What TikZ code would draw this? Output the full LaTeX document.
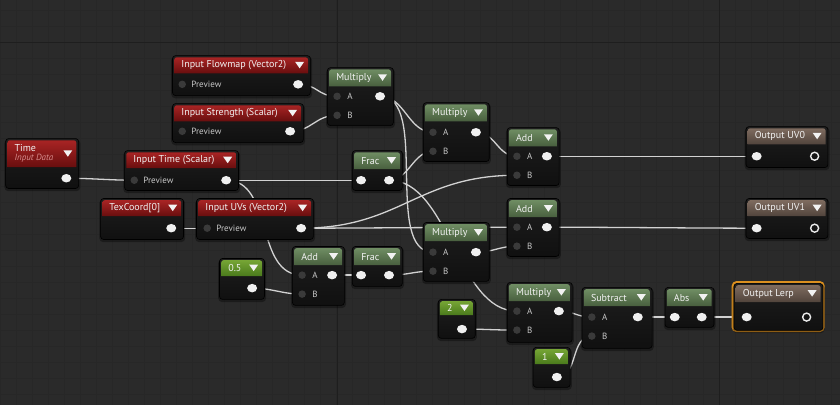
\documentclass[tikz,border=0pt]{standalone}
\usepackage{fontspec}
\setmainfont{PT Sans}
\usetikzlibrary{shapes.geometric}
\definecolor{bgc}{HTML}{2A2A2A}
\definecolor{gridc}{HTML}{272727}
\definecolor{majc}{HTML}{1E1E1E}
\definecolor{bodytop}{HTML}{1E1E1E}
\definecolor{bodybot}{HTML}{101010}
\definecolor{redtop}{HTML}{A82424}
\definecolor{redbot}{HTML}{680E0E}
\definecolor{grntop}{HTML}{6F8D63}
\definecolor{grnbot}{HTML}{485F3E}
\definecolor{cgrtop}{HTML}{76A535}
\definecolor{cgrbot}{HTML}{4A7A1C}
\definecolor{brntop}{HTML}{7E6B5F}
\definecolor{brnbot}{HTML}{51443C}
\definecolor{wirec}{HTML}{D2D2D2}
\definecolor{pinc}{HTML}{3A3A3A}
\definecolor{lblc}{HTML}{C8C8C8}
\definecolor{pinkc}{HTML}{D88C8C}
\definecolor{orangec}{HTML}{DB9020}
\definecolor{titlec}{HTML}{F2F2F2}
\pgfdeclarelayer{grid}
\pgfdeclarelayer{wires}
\pgfsetlayers{grid,wires,main}
\tikzset{
  bodybox/.style={draw=black, line width=0.6pt, rounded corners=3pt, top color=bodytop, bottom color=bodybot, inner sep=0pt},
  hdrred/.style={top color=redtop, bottom color=redbot},
  hdrgrn/.style={top color=grntop, bottom color=grnbot},
  hdrcst/.style={top color=cgrtop, bottom color=cgrbot},
  hdrbrn/.style={top color=brntop, bottom color=brnbot},
  hdrtext/.style={font=\fontsize{10}{11.5}\selectfont, text=titlec, inner sep=0pt},
  pinlbl/.style={font=\fontsize{9}{10}\selectfont, text=lblc, inner sep=0pt, anchor=west},
  inpin/.style={circle, fill=pinc, minimum size=7.5pt, inner sep=0pt},
  outpin/.style={ellipse, fill=white!94!black, minimum width=10pt, minimum height=8.5pt, inner sep=0pt},
  ringpin/.style={circle, draw=white!92!black, line width=1.4pt, minimum size=8pt, inner sep=0pt},
  wire/.style={draw=wirec, line width=1.3pt},
}
\newcommand\uenode[8]{%
  \fill[black,opacity=.35,rounded corners=4pt] ({#2-1},{#3+1}) rectangle ({#4+2},{#5+3});
  \node[bodybox, anchor=north west, minimum width={(#4-(#2))*1pt}, minimum height={(#5-(#3))*1pt}] (#1) at (#2,#3) {};
  \path[#6] ({#2+2},{#3+#7}) [rounded corners=2.5pt] -- ({#2+2},{#3+2}) -- ({#4-2},{#3+2}) [sharp corners] -- ({#4-2},{#3+#7}) -- cycle;
  \node[hdrtext, anchor=west] (#1-t) at ({#2+9},{#3+1+#7/2}) {#8};
  \fill[titlec] ({#4-15},{#3+1+#7/2-3.5}) -- ({#4-6},{#3+1+#7/2-3.5}) -- ({#4-10.5},{#3+1+#7/2+3}) -- cycle;
}
\newcommand\wire[3]{\draw[wire] (#1.center) .. controls +(#3,0) and +(-#3,0) .. (#2.center);}
\begin{document}
\begin{tikzpicture}[x=1pt,y=-1pt]
\begin{pgfonlayer}{grid}
  \fill[bgc] (0,0) rectangle (840,405);
  \foreach \i in {0,16,...,840} \draw[gridc, line width=0.5pt] (\i,0) -- (\i,405);
  \foreach \j in {10,26,...,405} \draw[gridc, line width=0.5pt] (0,\j) -- (840,\j);
  \draw[majc, line width=0.8pt] (337,0) -- (337,405);
  \draw[majc, line width=0.8pt] (720,0) -- (720,405);
  \draw[majc, line width=0.8pt] (0,42) -- (840,42);
\end{pgfonlayer}
\useasboundingbox (0,0) rectangle (840,405);

% ---- input nodes
\uenode{time}{5}{138}{78}{188}{hdrred}{29}{\begin{tabular}{@{}l@{}}Time\\[-2pt]{\fontsize{9}{10}\selectfont\itshape\color{pinkc}Input Data}\end{tabular}}
\node[outpin] (time-o) at (66,178) {};

\uenode{flow}{172}{55}{310}{95}{hdrred}{18}{Input Flowmap (Vector2)}
\node[inpin] (flow-i) at (182,84) {};
\node[pinlbl] (flow-l) at (191,84) {Preview};
\node[outpin] (flow-o) at (298,84) {};

\uenode{stren}{172}{103}{303}{142}{hdrred}{18}{Input Strength (Scalar)}
\node[inpin] (stren-i) at (182,131) {};
\node[pinlbl] (stren-l) at (191,131) {Preview};
\node[outpin] (stren-o) at (290,131) {};

\uenode{itime}{124}{150}{238}{190}{hdrred}{18}{Input Time (Scalar)}
\node[inpin] (itime-i) at (134,180) {};
\node[pinlbl] (itime-l) at (143,180) {Preview};
\node[outpin] (itime-o) at (226,180) {};

\uenode{texc}{100}{198}{183}{239}{hdrred}{18}{TexCoord[0]}
\node[outpin] (texc-o) at (171,228) {};

\uenode{iuvs}{196}{198}{313}{239}{hdrred}{18}{Input UVs (Vector2)}
\node[inpin] (iuvs-i) at (207,228) {};
\node[pinlbl] (iuvs-l) at (216,228) {Preview};
\node[outpin] (iuvs-o) at (301,228) {};

% ---- math nodes
\uenode{m1}{327}{67}{393}{125}{hdrgrn}{19}{Multiply}
\node[inpin] (m1-a) at (337,96) {}; \node[pinlbl] (m1-al) at (347,96) {A};
\node[inpin] (m1-b) at (337,115) {}; \node[pinlbl] (m1-bl) at (347,115) {B};
\node[outpin] (m1-o) at (380,96) {};

\uenode{m2}{423}{102}{489}{161}{hdrgrn}{19}{Multiply}
\node[inpin] (m2-a) at (433,132) {}; \node[pinlbl] (m2-al) at (443,132) {A};
\node[inpin] (m2-b) at (433,151) {}; \node[pinlbl] (m2-bl) at (443,151) {B};
\node[outpin] (m2-o) at (476,132) {};

\uenode{add1}{507}{127}{559}{185}{hdrgrn}{19}{Add}
\node[inpin] (add1-a) at (517,156) {}; \node[pinlbl] (add1-al) at (527,156) {A};
\node[inpin] (add1-b) at (517,175) {}; \node[pinlbl] (add1-bl) at (527,175) {B};
\node[outpin] (add1-o) at (547,156) {};

\uenode{frac1}{352}{150}{402}{190}{hdrgrn}{19}{Frac}
\node[outpin] (frac1-i) at (361,180) {};
\node[outpin] (frac1-o) at (389,180) {};

\uenode{add2}{507}{198}{559}{256}{hdrgrn}{19}{Add}
\node[inpin] (add2-a) at (517,227) {}; \node[pinlbl] (add2-al) at (527,227) {A};
\node[inpin] (add2-b) at (517,246) {}; \node[pinlbl] (add2-bl) at (527,246) {B};
\node[outpin] (add2-o) at (547,227) {};

\uenode{m3}{423}{222}{489}{281}{hdrgrn}{19}{Multiply}
\node[inpin] (m3-a) at (433,252) {}; \node[pinlbl] (m3-al) at (443,252) {A};
\node[inpin] (m3-b) at (433,271) {}; \node[pinlbl] (m3-bl) at (443,271) {B};
\node[outpin] (m3-o) at (476,252) {};

\uenode{addb}{292}{246}{344}{305}{hdrgrn}{19}{Add}
\node[inpin] (addb-a) at (302,275) {}; \node[pinlbl] (addb-al) at (312,275) {A};
\node[inpin] (addb-b) at (302,294) {}; \node[pinlbl] (addb-bl) at (312,294) {B};
\node[outpin] (addb-o) at (332,275) {};

\uenode{fracb}{352}{246}{402}{286}{hdrgrn}{19}{Frac}
\node[outpin] (fracb-i) at (361,275) {};
\node[outpin] (fracb-o) at (389,275) {};

\uenode{c05}{219}{258}{264}{299}{hdrcst}{18}{0.5}
\node[outpin] (c05-o) at (252,288) {};

\uenode{c2}{438}{299}{475}{338}{hdrcst}{16}{2}
\node[outpin] (c2-o) at (462,329) {};

\uenode{m4}{507}{282}{572}{342}{hdrgrn}{19}{Multiply}
\node[inpin] (m4-a) at (517,311) {}; \node[pinlbl] (m4-al) at (527,311) {A};
\node[inpin] (m4-b) at (517,330) {}; \node[pinlbl] (m4-bl) at (527,330) {B};
\node[outpin] (m4-o) at (559,311) {};

\uenode{c1}{533}{347}{570}{387}{hdrcst}{17}{1}
\node[outpin] (c1-o) at (557,377) {};

\uenode{sub}{582}{287}{652}{348}{hdrgrn}{19}{Subtract}
\node[inpin] (sub-a) at (592,317) {}; \node[pinlbl] (sub-al) at (602,317) {A};
\node[inpin] (sub-b) at (592,336) {}; \node[pinlbl] (sub-bl) at (602,336) {B};
\node[outpin] (sub-o) at (638,317) {};

\uenode{abs}{665}{287}{714}{327}{hdrgrn}{19}{Abs}
\node[outpin] (abs-i) at (675,317) {};
\node[outpin] (abs-o) at (702,317) {};

% ---- output nodes
\draw[orangec, line width=2.2pt, rounded corners=4pt] (733,282) rectangle (824,331);
\uenode{lerp}{734}{283}{823}{330}{hdrbrn}{19}{Output Lerp}
\node[outpin] (lerp-i) at (747,317) {};
\node[ringpin] (lerp-o) at (807,317) {};

\uenode{uv0}{746}{126}{828}{167}{hdrbrn}{18}{Output UV0}
\node[outpin] (uv0-i) at (757,156) {};
\node[ringpin] (uv0-o) at (815,156) {};

\uenode{uv1}{746}{198}{828}{238}{hdrbrn}{18}{Output UV1}
\node[outpin] (uv1-i) at (757,228) {};
\node[ringpin] (uv1-o) at (815,228) {};

% ---- wires
\begin{pgfonlayer}{wires}
\wire{time-o}{itime-i}{25}
\wire{texc-o}{iuvs-i}{15}
\wire{flow-o}{m1-a}{20}
\wire{stren-o}{m1-b}{22}
\wire{itime-o}{frac1-i}{30}
\wire{itime-o}{addb-a}{48}
\wire{c05-o}{addb-b}{20}
\wire{addb-o}{fracb-i}{12}
\wire{fracb-o}{m3-b}{20}
\wire{frac1-o}{m2-b}{20}
\wire{frac1-o}{m4-a}{60}
\wire{m1-o}{m2-a}{25}
\wire{m1-o}{m3-a}{50}
\wire{m2-o}{add1-a}{20}
\wire{iuvs-o}{add1-b}{100}
\wire{iuvs-o}{add2-a}{60}
\wire{m3-o}{add2-b}{18}
\wire{add1-o}{uv0-i}{60}
\wire{add2-o}{uv1-i}{60}
\wire{c2-o}{m4-b}{25}
\wire{m4-o}{sub-a}{15}
\wire{c1-o}{sub-b}{22}
\wire{sub-o}{abs-i}{15}
\wire{abs-o}{lerp-i}{20}
\end{pgfonlayer}
\end{tikzpicture}
\end{document}
